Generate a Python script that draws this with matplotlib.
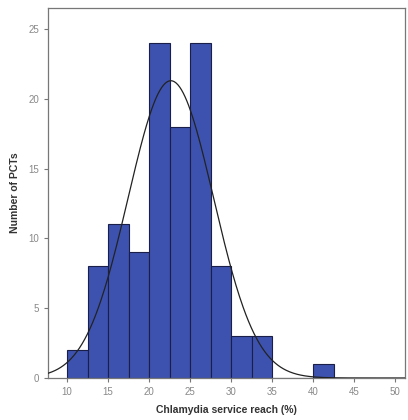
import numpy as np
import matplotlib
matplotlib.use("Agg")
import matplotlib.pyplot as plt

# Histogram bins (2.5% wide) and counts
bin_edges = [10, 12.5, 15, 17.5, 20, 22.5, 25, 27.5, 30, 32.5, 35, 37.5, 40, 42.5]
counts = [2, 8, 11, 9, 24, 18, 24, 8, 3, 3, 0, 0, 1]

# Fitted normal curve parameters
fit_mean = 22.65
fit_sd = 5.2

x_ticks = [10, 15, 20, 25, 30, 35, 40, 45, 50]
y_ticks = [0, 5, 10, 15, 20, 25]

plt.rcParams["font.family"] = ["Liberation Sans", "DejaVu Sans"]

fig = plt.figure(figsize=(4.08, 4.2), dpi=100)
ax = fig.add_axes([0.118, 0.1, 0.875, 0.881])

widths = np.diff(bin_edges)
ax.bar(bin_edges[:-1], counts, width=widths, align="edge",
       color="#3d52ae", edgecolor="#1a1f4a", linewidth=0.8, zorder=2)

n_total = sum(counts)
bw = widths[0]
xs = np.linspace(7.7, 51.2, 400)
ys = n_total * bw / (fit_sd * np.sqrt(2 * np.pi)) * np.exp(-0.5 * ((xs - fit_mean) / fit_sd) ** 2)
ax.plot(xs, ys, color="#222222", linewidth=0.9, zorder=3)

ax.set_xlim(7.7, 51.2)
ax.set_ylim(0, 26.5)
ax.set_xticks(x_ticks)
ax.set_yticks(y_ticks)

for side in ["top", "right", "left", "bottom"]:
    ax.spines[side].set_color("#777777")
    ax.spines[side].set_linewidth(0.9)

ax.tick_params(axis="both", labelsize=7, colors="#777777", length=3, width=0.8,
               labelcolor="#888888")

ax.set_xlabel("Chlamydia service reach (%)", fontsize=7.5, fontweight="bold", color="#333333", labelpad=6)
ax.set_ylabel("Number of PCTs", fontsize=7.5, fontweight="bold", color="#333333", labelpad=6)

fig.savefig("out.png", dpi=100)
